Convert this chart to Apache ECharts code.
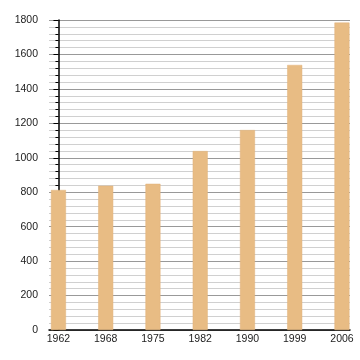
<!DOCTYPE html>
<html>
<head>
<meta charset="utf-8">
<script src="https://cdn.jsdelivr.net/npm/echarts@6/dist/echarts.min.js"></script>
<style>html,body{margin:0;padding:0;background:#fff;}#c{width:360px;height:360px;}</style>
</head>
<body>
<div id="c"></div>
<script>
const years = ['1962', '1968', '1975', '1982', '1990', '1999', '2006'];
const population = [813, 838, 849, 1039, 1161, 1539, 1785];
const yTicks = { min: 0, max: 1800, interval: 200 };

const chart = echarts.init(document.getElementById('c'), null, { renderer: 'canvas' });
chart.setOption({
  animation: false,
  backgroundColor: '#fff',
  grid: { left: 49, right: 10, top: 20, bottom: 30, containLabel: false },
  xAxis: {
    type: 'value',
    min: -0.2,
    max: 6.17,
    minInterval: 1,
    maxInterval: 1,
    axisLine: { show: true, onZero: false, lineStyle: { color: '#000', width: 1.5 } },
    axisTick: { show: false },
    splitLine: { show: false },
    axisLabel: {
      color: '#222', fontFamily: 'Liberation Sans', fontSize: 10.5, margin: 4,
      formatter: function (v) {
        const i = Math.round(v);
        if (Math.abs(v - i) > 1e-6 || i < 0 || i >= years.length) return '';
        return years[i];
      }
    }
  },
  yAxis: {
    type: 'value',
    min: yTicks.min, max: yTicks.max, interval: yTicks.interval,
    axisLine: { show: true, lineStyle: { color: '#000', width: 1.5 } },
    axisTick: { show: true, length: 5, lineStyle: { color: '#000' } },
    minorTick: { show: true, splitNumber: 5, length: 3, lineStyle: { color: '#000' } },
    splitLine: { show: true, lineStyle: { color: '#999', width: 1 } },
    minorSplitLine: { show: true, lineStyle: { color: '#d0d0d0', width: 1 } },
    axisLabel: {
      color: '#222', fontFamily: 'Liberation Sans', fontSize: 10.5, margin: 11,
      formatter: function (v) { return String(v); }
    }
  },
  series: [{
    type: 'bar',
    barWidth: 15,
    data: years.map((y, i) => [i, population[i]]),
    itemStyle: { color: '#E8BC84', borderColor: '#E0B27A', borderWidth: 0.5 }
  }]
});
</script>
</body>
</html>
